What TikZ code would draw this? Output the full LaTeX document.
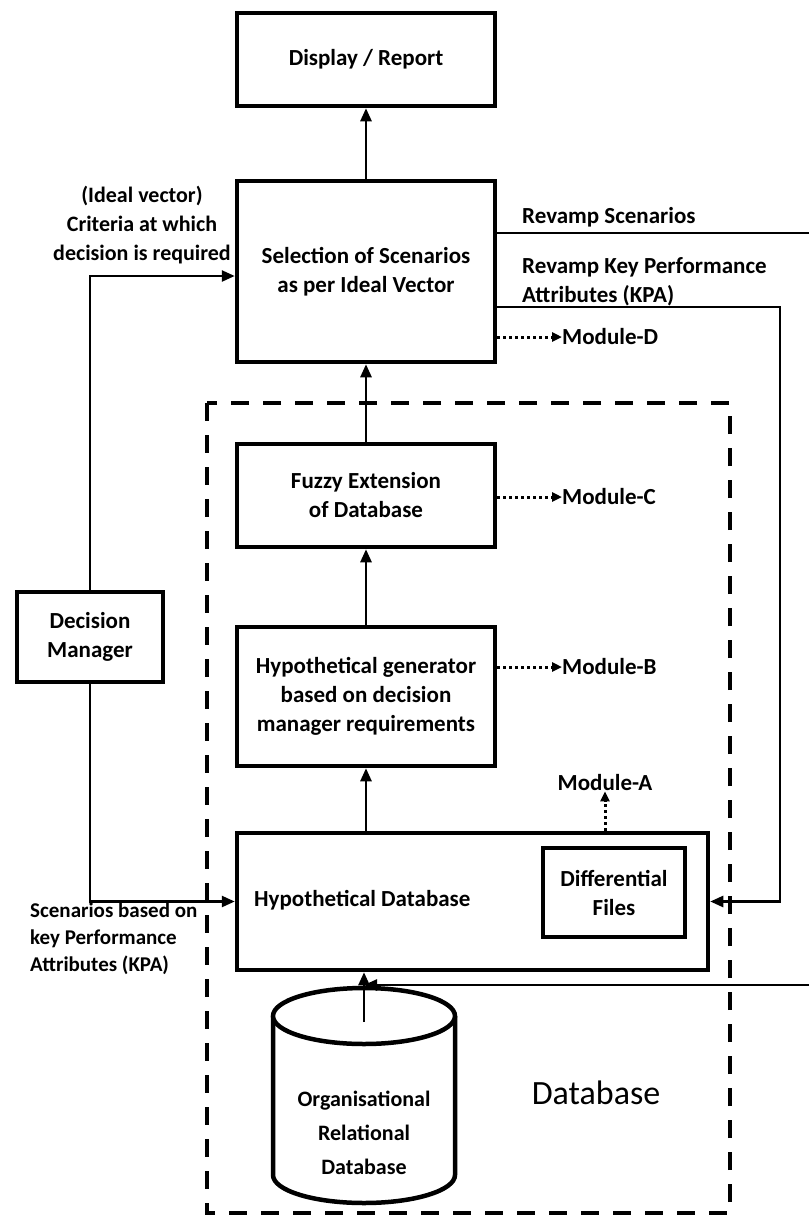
\documentclass[tikz,border=0pt]{standalone}
\usepackage{fontspec}
\setmainfont{Carlito}
\usetikzlibrary{arrows.meta}

\begin{document}
\begin{tikzpicture}[x=1pt,y=-1pt,
	block/.style={draw,line width=4.5pt,align=center,inner sep=0pt,font=\bfseries\fontsize{23}{29}\selectfont},
	link/.style={line width=2.5pt,-{Triangle[length=13pt,width=11pt]}},
	wire/.style={line width=2.5pt},
	modlink/.style={line width=3pt,dash pattern=on 3pt off 3pt,-{Triangle[length=10pt,width=9pt]}},
	label_text/.style={inner sep=0pt,font=\bfseries\fontsize{23}{29}\selectfont},
	small_text/.style={inner sep=0pt,align=left,font=\bfseries\fontsize{21}{27}\selectfont}]
		
		\useasboundingbox (0,0) rectangle (809,1218);
		
		% database frame
		\draw[line width=4pt,dash pattern=on 18pt off 14pt] (207,403) rectangle (730,1213);
		\node[font=\fontsize{34}{40}\selectfont] (dblabel) at (596,1093) {Database};
		
		\node[block,minimum width=258,minimum height=93] (display) at (366,59.5) {Display / Report};
		\node[block,minimum width=258,minimum height=181] (selection) at (366,271.5) {Selection of Scenarios\\as per Ideal Vector};
		\node[block,minimum width=258,minimum height=103] (fuzzy) at (366,495.5) {Fuzzy Extension\\of Database};
		\node[block,minimum width=258,minimum height=139] (hypgen) at (366,696.5) {Hypothetical generator\\based on decision\\manager requirements};
		\node[block,minimum width=471,minimum height=137] (hypdb) at (472.5,901.5) {};
		\node[label_text,anchor=west] (hypdb_text) at (254,900) {Hypothetical Database};
		\node[block,minimum width=142,minimum height=89] (diff) at (614,892.5) {Differential\\Files};
		\node[block,minimum width=146,minimum height=90] (dm) at (90,637) {Decision\\Manager};
		
		% organisational database (cylinder)
		\draw[line width=4.5pt] (273,1016) -- (273,1175) arc[start angle=180,end angle=0,x radius=91,y radius=28] -- (455,1016);
		\draw[line width=4.5pt,fill=white] (364,1016) ellipse [x radius=91,y radius=28];
		\node[label_text,align=center,font=\bfseries\fontsize{22}{34}\selectfont] (orgdb_text) at (364,1133) {Organisational\\Relational\\Database};
		
		% module labels
		\node[label_text,anchor=west] (modD) at (562,337) {Module-D};
		\node[label_text,anchor=west] (modC) at (562,497) {Module-C};
		\node[label_text,anchor=west] (modB) at (562,667) {Module-B};
		\node[label_text] (modA) at (605,783) {Module-A};
		
		% side texts
		\node[label_text,align=center,font=\bfseries\fontsize{22}{29}\selectfont] (ideal) at (142,225) {(Ideal vector)\\Criteria at which\\decision is required};
		\node[label_text,anchor=west] (revsc) at (522,217) {Revamp Scenarios};
		\node[label_text,anchor=west,align=left] (revkpa) at (522,282) {Revamp Key Performance\\Attributes (KPA)};
		\node[small_text,anchor=west] (kpa) at (30,939) {Scenarios based on\\key Performance\\Attributes (KPA)};
		
		\coordinate (rs_out) at (809,233);
		\coordinate (rs_in) at (809,985);
		\coordinate (kpa_turn) at (780,307);
		\coordinate (orgdb_in) at (364,1022);
		
		\draw[link] (selection) -- (display);
		\draw[link] (fuzzy) -- (selection);
		\draw[link] (hypgen) -- (fuzzy);
		\draw[link] (hypgen.south |- hypdb.north) -- (hypgen.south);
		\draw[link] (orgdb_in) -- (orgdb_in |- hypdb.south);
		\draw[link] (rs_in) -- (rs_in -| orgdb_in);
		\draw[wire] (rs_out -| selection.east) -- (rs_out);
		\draw[link] (kpa_turn -| selection.east) -- (kpa_turn) |- (hypdb.east);
		\draw[link] (dm.north) |- ([yshift=-4.5pt]selection.west);
		\draw[link] (dm.south) |- (hypdb.west);
		
		\draw[modlink] (selection.east |- modD) -- (modD.west);
		\draw[modlink] (fuzzy.east |- modC) -- (modC.west);
		\draw[modlink] (hypgen.east |- modB) -- (modB.west);
		\draw[modlink] (modA.south |- hypdb.north) -- (modA.south);
		\end{tikzpicture}
\end{document}
